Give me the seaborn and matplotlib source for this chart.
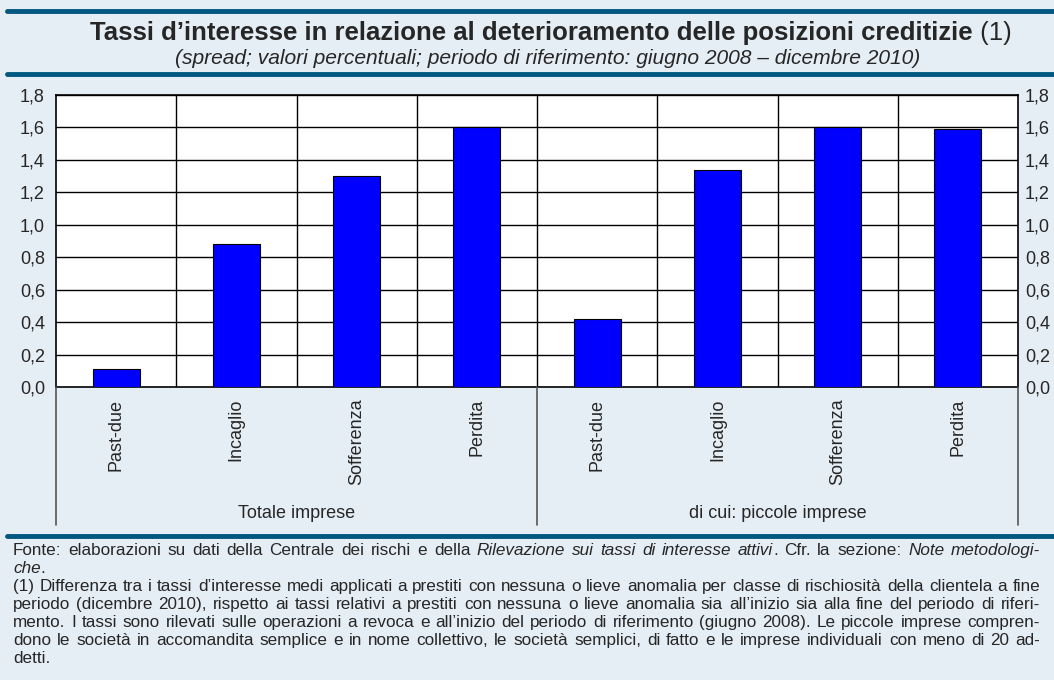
import pandas as pd
import seaborn as sns
import matplotlib.pyplot as plt
import matplotlib.transforms as mtransforms
from matplotlib.lines import Line2D

categories = ['Past-due', 'Incaglio', 'Sofferenza', 'Perdita']
groups = ['Totale imprese', 'di cui: piccole imprese']
totale = [0.11, 0.88, 1.30, 1.60]
piccole = [0.42, 1.34, 1.60, 1.59]
yticks = [0.0, 0.2, 0.4, 0.6, 0.8, 1.0, 1.2, 1.4, 1.6, 1.8]

title = "Tassi d\u2019interesse in relazione al deterioramento delle posizioni creditizie"
subtitle = "(spread; valori percentuali; periodo di riferimento: giugno 2008 \u2013 dicembre 2010)"

# footer lines: list of (text, italic) segments, justified flag
notes = [
    ([("Fonte: elaborazioni su dati della Centrale dei rischi e della ", False),
      ("Rilevazione sui tassi di interesse attivi", True),
      (". Cfr. la sezione: ", False), ("Note metodologi-", True)], True),
    ([("che", True), (".", False)], False),
    ([("(1) Differenza tra i tassi d\u2019interesse medi applicati a prestiti con nessuna o lieve anomalia per classe di rischiosit\u00e0 della clientela a fine", False)], True),
    ([("periodo (dicembre 2010), rispetto ai tassi relativi a prestiti con nessuna o lieve anomalia sia all\u2019inizio sia alla fine del periodo di riferi-", False)], True),
    ([("mento. I tassi sono rilevati sulle operazioni a revoca e all\u2019inizio del periodo di riferimento (giugno 2008). Le piccole imprese compren-", False)], True),
    ([("dono le societ\u00e0 in accomandita semplice e in nome collettivo, le societ\u00e0 semplici, di fatto e le imprese individuali con meno di 20 ad-", False)], True),
    ([("detti.", False)], False),
]

df = pd.DataFrame({
    'pos': list(range(8)),
    'label': categories + categories,
    'value': totale + piccole,
})

sns.set_style('white')
plt.rcParams['font.family'] = ['Liberation Sans', 'DejaVu Sans']

bg = '#e6eef5'
navy = '#00577f'
W, H = 1054, 680
fig = plt.figure(figsize=(W / 100, H / 100), dpi=100, facecolor=bg)

def fx(px):
    return px / W

def fy(py):
    return 1 - py / H

ax_l, ax_r, ax_t, ax_b = 56, 1018, 95, 387
ax = fig.add_axes([fx(ax_l), fy(ax_b), fx(ax_r - ax_l), (ax_b - ax_t) / H])
ax.set_facecolor('white')

sns.barplot(data=df, x='pos', y='value', color='#0000ff', width=0.39,
            edgecolor='black', linewidth=0.8, saturation=1, ax=ax, zorder=3)

lab_fs = 13
ax.set_xlim(-0.5, 7.5)
ax.set_ylim(0, 1.8)
ax.set_yticks(yticks)
ax.set_yticklabels([f"{v:.1f}".replace('.', ',') for v in yticks], fontsize=lab_fs)
ax.tick_params(axis='y', length=0, pad=8)
ax.set_xticks([])
ax.set_xlabel('')
ax.set_ylabel('')
for v in yticks[1:]:
    ax.axhline(v, color='black', lw=1, zorder=1)
for x in range(7):
    ax.axvline(x + 0.5, color='black', lw=1, zorder=1)
for s in ax.spines.values():
    s.set_color('black')
    s.set_linewidth(1.2)

ax2 = ax.twinx()
ax2.set_ylim(0, 1.8)
ax2.set_yticks(yticks)
ax2.set_yticklabels([f"{v:.1f}".replace('.', ',') for v in yticks], fontsize=lab_fs)
ax2.tick_params(axis='y', length=0, pad=5)
for s in ax2.spines.values():
    s.set_visible(False)

# category labels below
trans = ax.get_xaxis_transform()
for i, lab in enumerate(categories + categories):
    ax.text(i, -0.04, lab, rotation=90, ha='center', va='top', fontsize=lab_fs,
            transform=trans)

# group separators and labels
for xp in [ax_l, (ax_l + ax_r) / 2, ax_r]:
    fig.add_artist(Line2D([fx(xp), fx(xp)], [fy(ax_b), fy(525)], color='#555555', lw=1.2))
gtrans = mtransforms.blended_transform_factory(ax.transData, fig.transFigure)
for i, g in enumerate(groups):
    ax.text(1.5 + 4 * i, fy(514), g, ha='center', va='center', fontsize=lab_fs,
            transform=gtrans)

# header rules
for yp, x0 in [(11, 7), (74, 7), (536, 7)]:
    fig.add_artist(Line2D([fx(x0), 1], [fy(yp), fy(yp)], color=navy, lw=3.5))

# title
fig.canvas.draw()
r = fig.canvas.get_renderer()
t1 = fig.text(fx(90), fy(33), title, fontsize=18.5, fontweight='bold', ha='left', va='center')
w1 = t1.get_window_extent(r).width
fig.text(fx(90 + w1), fy(33), " (1)", fontsize=18.5, ha='left', va='center')
fig.text(fx(548), fy(58), subtitle, fontsize=15.1, style='italic', ha='center', va='center')

# footer, justified word by word
left_px, right_px = 13, 1040
fs = 12.3
y0, dy = 555, 18
probe1 = fig.text(0, 0, 'a a', fontsize=fs)
probe2 = fig.text(0, 0, 'aa', fontsize=fs)
space = probe1.get_window_extent(r).width - probe2.get_window_extent(r).width
probe1.remove()
probe2.remove()
for li, (segs, justify) in enumerate(notes):
    # split into words, remembering whether a space preceded each piece
    items = []
    prev_space = False
    for text, it in segs:
        parts = text.split(' ')
        for k, p in enumerate(parts):
            if k > 0:
                prev_space = True
            if p == '':
                continue
            items.append((p, it, prev_space and len(items) > 0))
            prev_space = False
    ypos = fy(y0 + li * dy)
    arts = []
    for w, it, gap in items:
        t = fig.text(0, ypos, w, fontsize=fs, style='italic' if it else 'normal',
                     ha='left', va='baseline')
        arts.append((t, t.get_window_extent(r).width, gap))
    ngaps = sum(1 for a in arts if a[2])
    total = sum(a[1] for a in arts)
    if justify and ngaps:
        sp = (right_px - left_px - total) / ngaps
    else:
        sp = space
    x = left_px
    for t, w, gap in arts:
        if gap:
            x += sp
        t.set_x(fx(x))
        x += w

fig.savefig('out.png', dpi=100, facecolor=bg)
